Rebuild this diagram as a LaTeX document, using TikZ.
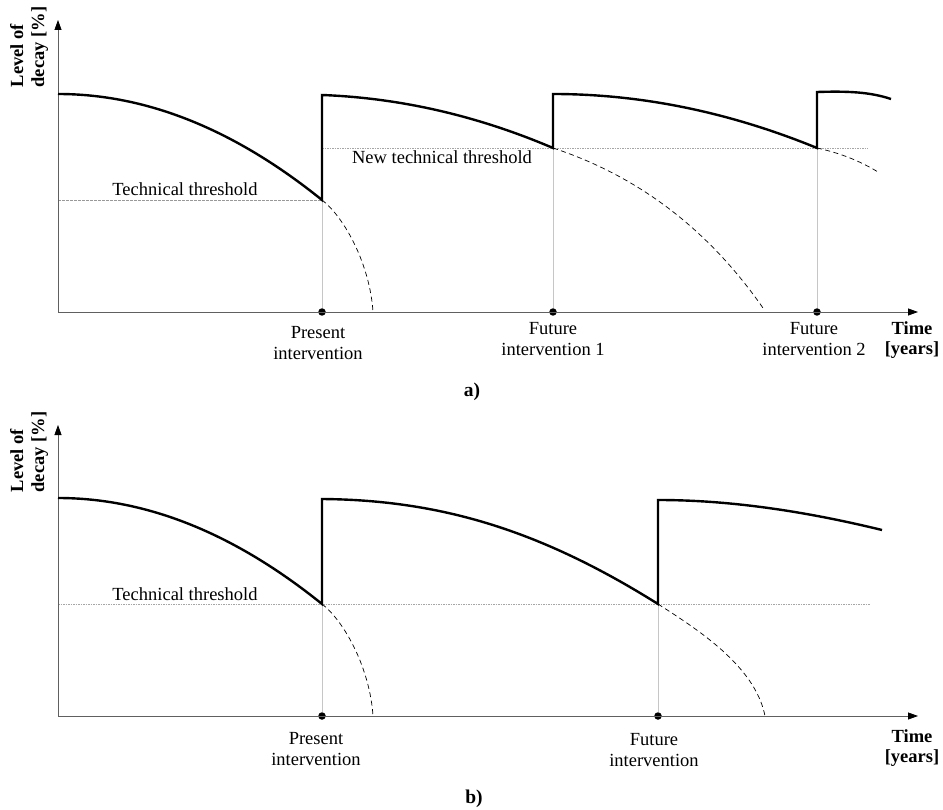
\documentclass[tikz,border=0pt]{standalone}
\usepackage{fontspec}
\setmainfont{Liberation Serif}
\usetikzlibrary{arrows.meta}
\begin{document}
\begin{tikzpicture}[x=1pt,y=-1pt,
  axis/.style={draw=gray!75!black, line width=0.8pt, -{Triangle[length=10pt,width=7pt,color=black]}},
  decay/.style={draw=black, line width=2.4pt, line join=miter},
  proj/.style={draw=black, line width=0.7pt, dash pattern=on 5pt off 3.5pt},
  thr/.style={draw=gray!70, line width=0.6pt, dash pattern=on 1.5pt off 1pt},
  vline/.style={draw=gray!45, line width=0.6pt},
  dot/.style={circle, fill=black, inner sep=0pt, minimum size=7.5pt},
  lab/.style={font=\fontsize{18.5}{21}\selectfont, inner sep=0pt, align=center, anchor=base},
  blab/.style={lab, font=\fontsize{18.5}{20}\selectfont\bfseries},
  ylab/.style={font=\fontsize{18.5}{21}\selectfont\bfseries, inner sep=0pt, align=left, rotate=90}
]
\useasboundingbox (0,0) rectangle (943,810);

% ---------------- panel a ----------------
\coordinate (aO) at (58,312);
\coordinate (aY) at (58,20);
\coordinate (aX) at (918,312);
\coordinate (a0) at (58,94);
\coordinate (a1) at (322,200);
\coordinate (a1t) at (322,95);
\coordinate (a2) at (553,148);
\coordinate (a2t) at (553,94);
\coordinate (a3) at (817,148);
\coordinate (a3t) at (817,92);
\coordinate (a4) at (891,99);
\coordinate (aT0) at (58,200);
\coordinate (aN1) at (868,148);
\coordinate (ad1) at (373,312);
\coordinate (ad2) at (763,308);
\coordinate (ad3) at (878,172);

\draw[thr, gray!80, dash pattern=on 2.5pt off 1.5pt] (aT0) -- (a1);
\draw[thr] (a1 |- a2) -- (aN1);
\node[dot] (pa1) at (a1 |- aO) {};
\node[dot] (pa2) at (a2 |- aO) {};
\node[dot] (pa3) at (a3 |- aO) {};
\draw[vline] (a1) -- (pa1);
\draw[vline] (a2) -- (pa2);
\draw[vline] (a3) -- (pa3);
\draw[axis] (aO) -- (aX);
\draw[axis] (aO) -- (aY);
\draw[proj] (a1) .. controls (345,218) and (370,265) .. (ad1);
\draw[proj] (a2) .. controls (638,176) and (708,229) .. (ad2);
\draw[proj] (a3) .. controls (840,153) and (860,161) .. (ad3);
\draw[decay] (a0) .. controls (146,94) and (234,129) .. (a1) -- (a1t)
  .. controls (401,98) and (478,116) .. (a2) -- (a2t)
  .. controls (641,94) and (729,112) .. (a3) -- (a3t)
  .. controls (848,91) and (870,92) .. (a4);

\node[ylab] (ylA) at (29,47) {Level of\\decay [\%]};
\node[lab] (tA) at (185,196) {Technical threshold};
\node[lab] (ntA) at (442,164) {New technical threshold};
\node[lab] (piA) at (318,360) {Present\\intervention};
\node[lab] (f1A) at (553,356) {Future\\intervention 1};
\node[lab] (f2A) at (814,356) {Future\\intervention 2};
\node[blab] (timeA) at (912,355) {Time\\{}[years]};
\node[blab, font=\fontsize{19.5}{20}\selectfont\bfseries] (capA) at (472,397) {a)};

% ---------------- panel b ----------------
\coordinate (bO) at (58,716);
\coordinate (bY) at (58,425);
\coordinate (bX) at (918,716);
\coordinate (b0) at (58,498);
\coordinate (b1) at (322,604);
\coordinate (b1t) at (322,499);
\coordinate (b2) at (658,604);
\coordinate (b2t) at (658,500);
\coordinate (b3) at (882,530);
\coordinate (bT0) at (58,604);
\coordinate (bT1) at (870,604);
\coordinate (bd1) at (373,716);
\coordinate (bd2) at (765,716);

\draw[thr] (bT0) -- (bT1);
\node[dot] (pb1) at (b1 |- bO) {};
\node[dot] (pb2) at (b2 |- bO) {};
\draw[vline] (b1) -- (pb1);
\draw[vline] (b2) -- (pb2);
\draw[axis] (bO) -- (bX);
\draw[axis] (bO) -- (bY);
\draw[proj] (b1) .. controls (345,622) and (370,669) .. (bd1);
\draw[proj] (b2) .. controls (695,628) and (755,665) .. (bd2);
\draw[decay] (b0) .. controls (146,498) and (234,533) .. (b1) -- (b1t)
  .. controls (440,500) and (540,530) .. (b2) -- (b2t)
  .. controls (726,500) and (800,510) .. (b3);

\node[ylab] (ylB) at (29,452) {Level of\\decay [\%]};
\node[lab] (tB) at (185,600) {Technical threshold};
\node[lab] (piB) at (316,765) {Present\\intervention};
\node[lab] (fB) at (654,766) {Future\\intervention};
\node[blab] (timeB) at (912,762) {Time\\{}[years]};
\node[blab, font=\fontsize{19.5}{20}\selectfont\bfseries] (capB) at (474,803) {b)};
\end{tikzpicture}
\end{document}
